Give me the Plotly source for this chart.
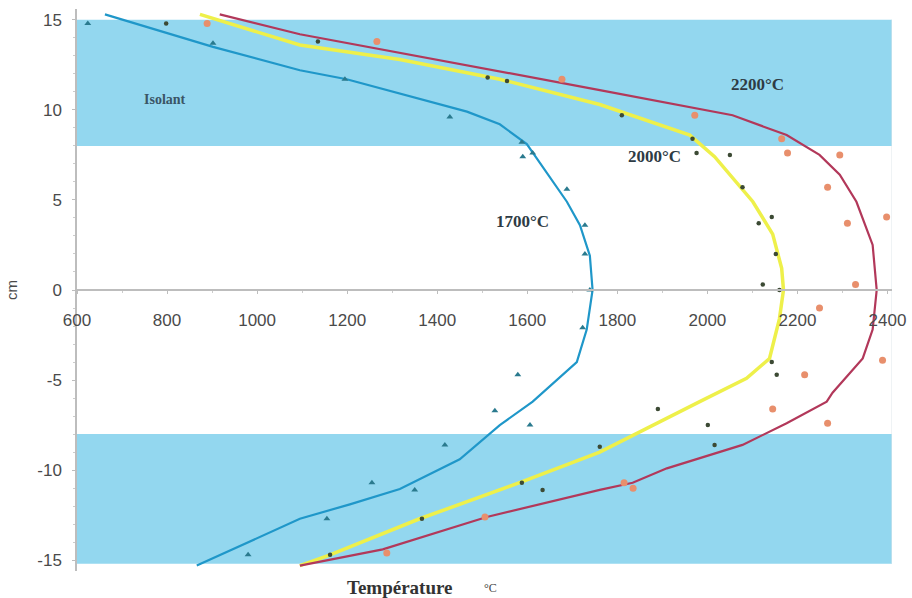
import plotly.graph_objects as go

# ---- data ----
# fitted curves: temperature (°C) vs position (cm)
curve_1700_T = [662, 902, 1095, 1199, 1466, 1539, 1599, 1688, 1717, 1739, 1745, 1732, 1710, 1612, 1539, 1450, 1317, 1206, 1095, 866]
curve_1700_y = [15.3, 13.5, 12.2, 11.7, 9.9, 9.2, 8.1, 4.9, 3.6, 1.9, 0.0, -2.2, -4.0, -6.2, -7.5, -9.4, -11.05, -11.9, -12.7, -15.3]

curve_2000_T = [873, 1095, 1317, 1539, 1761, 1961, 2016, 2101, 2145, 2165, 2169, 2160, 2138, 2087, 1983, 1761, 1583, 1361, 1162, 1095]
curve_2000_y = [15.3, 13.6, 12.8, 11.7, 10.3, 8.6, 7.4, 4.9, 3.1, 1.2, 0.0, -1.6, -3.8, -4.9, -6.2, -9.0, -10.7, -12.7, -14.7, -15.3]

curve_2200_T = [917, 1095, 1761, 2056, 2176, 2249, 2294, 2331, 2367, 2376, 2367, 2345, 2278, 2265, 2176, 2078, 1910, 1834, 1761, 1510, 1279, 1095]
curve_2200_y = [15.3, 14.2, 11.1, 9.7, 8.6, 7.5, 6.4, 4.9, 2.5, 0.0, -2.2, -3.8, -5.7, -6.2, -7.4, -8.6, -9.9, -10.7, -11.1, -12.6, -14.4, -15.3]

# measured points
pts_1700_T = [624, 902, 1195, 1428, 1588, 1590, 1612, 1688, 1728, 1728, 1739, 1723, 1579, 1528, 1606, 1417, 1255, 1350, 1155, 980]
pts_1700_y = [14.8, 13.7, 11.7, 9.6, 8.2, 7.4, 7.6, 5.6, 3.6, 2.0, 0.0, -2.1, -4.7, -6.7, -7.5, -8.6, -10.7, -11.1, -12.7, -14.7]

pts_2000_T = [798, 1135, 1512, 1555, 1810, 1967, 1976, 2050, 2078, 2143, 2114, 2152, 2123, 2160, 2143, 2154, 1890, 2001, 2016, 1761, 1588, 1634, 1366, 1162]
pts_2000_y = [14.8, 13.8, 11.8, 11.6, 9.7, 8.4, 7.6, 7.5, 5.7, 4.05, 3.7, 2.0, 0.3, 0.0, -4.0, -4.7, -6.6, -7.5, -8.6, -8.7, -10.7, -11.1, -12.7, -14.7]

pts_2200_T = [889, 1266, 1677, 1972, 2165, 2178, 2294, 2267, 2398, 2311, 2329, 2249, 2389, 2216, 2145, 2267, 1815, 1835, 1506, 1288]
pts_2200_y = [14.8, 13.8, 11.7, 9.7, 8.4, 7.6, 7.5, 5.7, 4.05, 3.7, 0.3, -1.0, -3.9, -4.7, -6.6, -7.4, -10.7, -11.0, -12.6, -14.6]

insulation_bands = [(8, 15), (-15.2, -8)]
x_ticks = [600, 800, 1000, 1200, 1400, 1600, 1800, 2000, 2200, 2400]
y_ticks = [-15, -10, -5, 0, 5, 10, 15]
y_ticktext = ["-15", "-10", "-5", "0", "5", "10", "15"]

labels = [("Isolant", 795, 10.6, 14), ("2200°C", 2112, 11.4, 17), ("2000°C", 1883, 7.4, 17), ("1700°C", 1590, 3.8, 17)]

# ---- figure ----
fig = go.Figure()

fig.add_trace(go.Scatter(x=curve_1700_T, y=curve_1700_y, mode="lines",
                         line=dict(color="#1f97c9", width=2.2), hoverinfo="skip"))
fig.add_trace(go.Scatter(x=curve_2000_T, y=curve_2000_y, mode="lines",
                         line=dict(color="#eef04a", width=3.5), hoverinfo="skip"))
fig.add_trace(go.Scatter(x=curve_2200_T, y=curve_2200_y, mode="lines",
                         line=dict(color="#b2385a", width=2.2), hoverinfo="skip"))

fig.add_trace(go.Scatter(x=pts_1700_T, y=pts_1700_y, mode="markers",
                         marker=dict(symbol="triangle-up", size=6, color="#2a7a8e")))
fig.add_trace(go.Scatter(x=pts_2000_T, y=pts_2000_y, mode="markers",
                         marker=dict(symbol="circle", size=4.5, color="#3c4a34")))
fig.add_trace(go.Scatter(x=pts_2200_T, y=pts_2200_y, mode="markers",
                         marker=dict(symbol="circle", size=7, color="#e88f6c")))

for y0, y1 in insulation_bands:
    fig.add_shape(type="rect", xref="x", yref="y", x0=600, x1=2410, y0=y0, y1=y1,
                  fillcolor="#93d7ef", line=dict(width=0), layer="below")

# faint right border
fig.add_shape(type="line", xref="x", yref="y", x0=2410, x1=2410, y0=-15.2, y1=15,
              line=dict(color="#dfe6ea", width=1), layer="below")

for txt, x, y, sz in labels:
    fig.add_annotation(x=x, y=y, text="<b>%s</b>" % txt, showarrow=False,
                       font=dict(family="Liberation Serif, DejaVu Serif, serif",
                                 size=sz, color="#2e3b44" if txt != "Isolant" else "#3a5566"),
                       xanchor="center", yanchor="middle")

fig.add_annotation(xref="paper", yref="paper", x=(400 - 77) / 815, y=-0.03, text="<b>Température</b>",
                   showarrow=False, font=dict(family="Liberation Serif, serif", size=19, color="#333"),
                   xanchor="center", yanchor="middle")
fig.add_annotation(xref="paper", yref="paper", x=(491 - 77) / 815, y=-0.03, text="°C",
                   showarrow=False, font=dict(family="Liberation Serif, serif", size=12, color="#444"),
                   xanchor="center", yanchor="middle")

fig.update_layout(
    width=912, height=598,
    margin=dict(l=77, r=20, t=9, b=27),
    paper_bgcolor="white", plot_bgcolor="white",
    showlegend=False,
    xaxis=dict(range=[600, 2410], tickvals=x_ticks, showgrid=False, zeroline=False, automargin=False,
               anchor="free", position=0.5, showline=True, linecolor="#bdbdbd", linewidth=1.5,
               ticks="outside", ticklen=3, tickcolor="#bdbdbd",
               minor=dict(dtick=100, ticks="outside", ticklen=2, tickcolor="#cccccc"),
               ticklabelstandoff=12,
               tickfont=dict(family="Liberation Sans, Arial, sans-serif", size=17, color="#4a4a4a")),
    yaxis=dict(range=[-15.6, 15.6], tickvals=y_ticks, ticktext=y_ticktext, showgrid=False,
               zeroline=False, automargin=False,
               showline=True, linecolor="#bdbdbd", linewidth=1.5,
               ticks="outside", ticklen=3, tickcolor="#bdbdbd",
               minor=dict(dtick=1, ticks="outside", ticklen=2, tickcolor="#cccccc"),
               ticklabelstandoff=7,
               tickfont=dict(family="Liberation Sans, Arial, sans-serif", size=17, color="#4a4a4a"),
               title=dict(text="cm", standoff=16,
                          font=dict(family="Liberation Sans, Arial, sans-serif", size=15, color="#4a4a4a"))),
)

fig.write_html("out.html", config={"displayModeBar": False},
               post_script="document.body.style.margin='0';document.body.style.overflow='hidden';")
